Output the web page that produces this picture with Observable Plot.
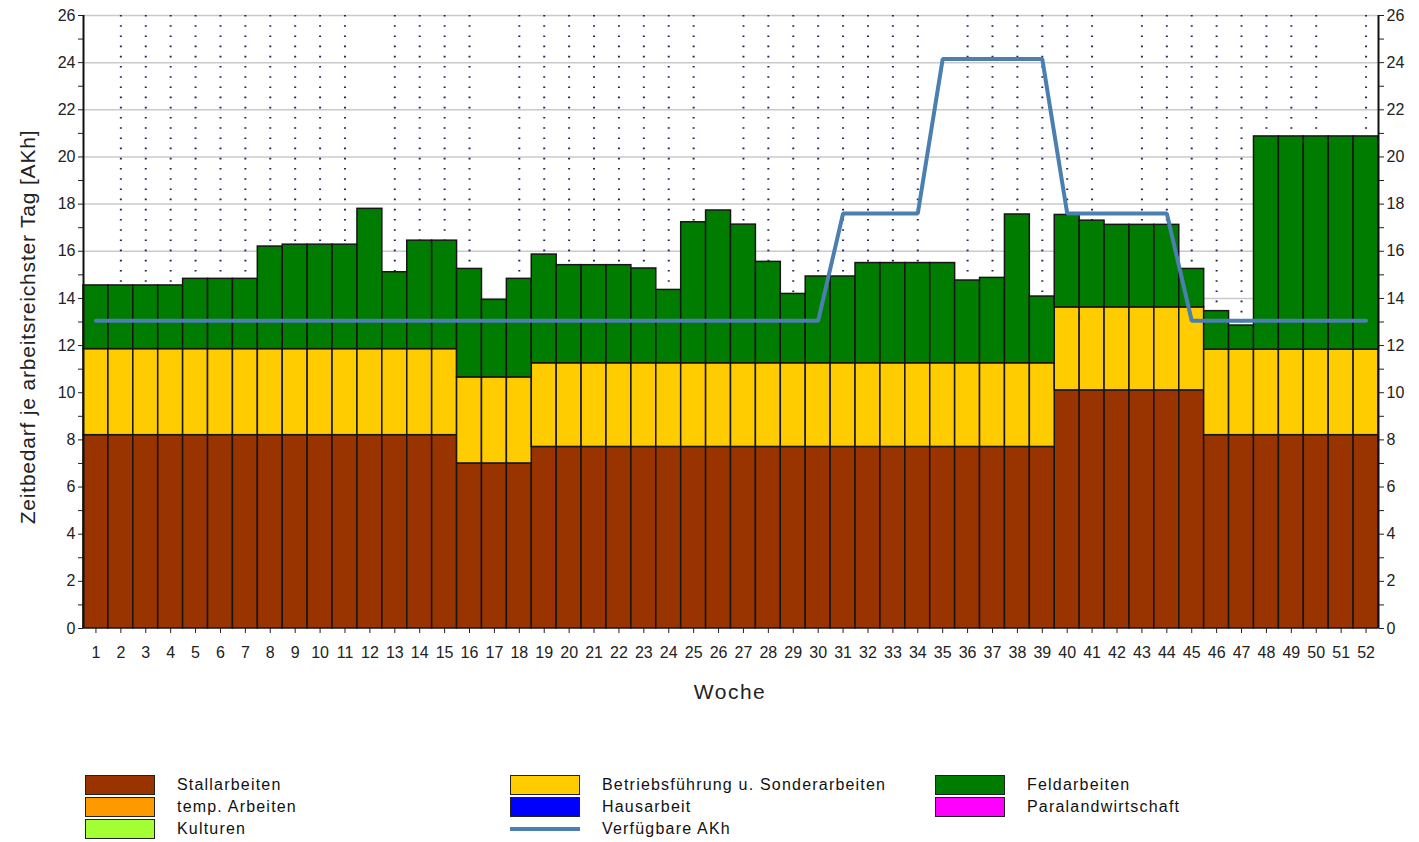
<!DOCTYPE html>
<html>
<head>
<meta charset="utf-8">
<script src="https://cdn.jsdelivr.net/npm/d3@7"></script>
<script src="https://cdn.jsdelivr.net/npm/@observablehq/plot@0.6"></script>
<style>
  html, body { margin: 0; padding: 0; background: #fff; }
  body { font-family: "Liberation Sans", Arial, sans-serif; color: #222; }
  #wrap { position: relative; width: 1419px; height: 842px; overflow: hidden; }
  #chart { position: absolute; left: 0; top: 0; }
  .lbl { position: absolute; white-space: nowrap; color: #222; }
  #ylabel { font-size: 21px; letter-spacing: 0.8px; transform: translate(-50%, -50%) rotate(-90deg); left: 28px; top: 327px; }
  #xlabel { font-size: 21px; letter-spacing: 1.5px; transform: translate(-50%, -50%); left: 730px; top: 692px; }
  .leg-sw { position: absolute; width: 68px; height: 18px; border: 1px solid #222; }
  .leg-line { position: absolute; width: 70px; height: 4px; }
  .leg-tx { position: absolute; font-size: 16px; letter-spacing: 1.2px; transform: translateY(-50%); white-space: nowrap; color: #111; }
</style>
</head>
<body>
<div id="wrap">
  <div id="chart"></div>
  <div id="ylabel" class="lbl">Zeitbedarf je arbeitsreichster Tag [AKh]</div>
  <div id="xlabel" class="lbl">Woche</div>
  <div id="legend"></div>
</div>
<script>
// ---------- data ----------
const weeks = [1,2,3,4,5,6,7,8,9,10,11,12,13,14,15,16,17,18,19,20,21,22,23,24,25,26,
               27,28,29,30,31,32,33,34,35,36,37,38,39,40,41,42,43,44,45,46,47,48,49,50,51,52];

const stallarbeiten = [
  8.2,8.2,8.2,8.2,8.2,8.2,8.2,8.2,8.2,8.2,8.2,8.2,8.2,8.2,8.2,
  7.0,7.0,7.0,
  7.7,7.7,7.7,7.7,7.7,7.7,7.7,7.7,7.7,7.7,7.7,7.7,7.7,7.7,7.7,7.7,7.7,7.7,7.7,7.7,7.7,
  10.1,10.1,10.1,10.1,10.1,10.1,
  8.2,8.2,8.2,8.2,8.2,8.2,8.2
];

const betriebsfuehrung = [
  3.65,3.65,3.65,3.65,3.65,3.65,3.65,3.65,3.65,3.65,3.65,3.65,3.65,3.65,3.65,
  3.65,3.65,3.65,
  3.55,3.55,3.55,3.55,3.55,3.55,3.55,3.55,3.55,3.55,3.55,3.55,3.55,3.55,3.55,3.55,3.55,3.55,3.55,3.55,3.55,
  3.52,3.52,3.52,3.52,3.52,3.52,
  3.63,3.63,3.63,3.63,3.63,3.63,3.63
];

const feldarbeiten = [
  2.70,2.70,2.70,2.70,2.98,2.98,2.98,4.35,4.43,4.43,4.43,5.95,3.26,4.60,4.60,
  4.60,3.29,4.18,
  4.61,4.16,4.16,4.16,4.02,3.11,5.98,6.48,5.88,4.30,2.94,3.68,3.68,4.25,4.25,4.25,4.25,3.51,3.62,6.31,2.83,
  3.92,3.68,3.50,3.50,3.50,1.63,
  1.63,1.02,9.04,9.04,9.04,9.04,9.04
];

const verfuegbareAKh = [
  13.05,13.05,13.05,13.05,13.05,13.05,13.05,13.05,13.05,13.05,13.05,13.05,13.05,13.05,13.05,
  13.05,13.05,13.05,13.05,13.05,13.05,13.05,13.05,13.05,13.05,13.05,13.05,13.05,13.05,13.05,
  17.6,17.6,17.6,17.6,
  24.15,24.15,24.15,24.15,24.15,
  17.6,17.6,17.6,17.6,17.6,
  13.05,13.05,13.05,13.05,13.05,13.05,13.05,13.05
];

const yTicks = [0,1,2,3,4,5,6,7,8,9,10,11,12,13,14,15,16,17,18,19,20,21,22,23,24,25,26];
const yGrid = [2,4,6,8,10,12,14,16,18,20,22,24,26];
const dotlessWeeks = [1,12,17,26,35,42,51];

const barSeries = ["Stallarbeiten", "Betriebsführung u. Sonderarbeiten", "Feldarbeiten"];
const legendCol1 = ["Stallarbeiten", "temp. Arbeiten", "Kulturen"];
const legendCol2 = ["Betriebsführung u. Sonderarbeiten", "Hausarbeit", "Verfügbare AKh"];
const legendCol3 = ["Feldarbeiten", "Paralandwirtschaft"];

// ---------- styles ----------
const colors = {
  "Stallarbeiten": "#993300",
  "temp. Arbeiten": "#ff9900",
  "Kulturen": "#a3ff33",
  "Betriebsführung u. Sonderarbeiten": "#ffcc00",
  "Hausarbeit": "#0000ff",
  "Verfügbare AKh": "#4a7fb0",
  "Feldarbeiten": "#007d00",
  "Paralandwirtschaft": "#ff00ff"
};

// ---------- build table ----------
const seriesValues = [stallarbeiten, betriebsfuehrung, feldarbeiten];
const rows = [];
barSeries.forEach((s, i) => {
  weeks.forEach((w, j) => rows.push({week: w, series: s, value: seriesValues[i][j]}));
});

const W = 1419, H = 720, mL = 83, mR = 41, mT = 15, mB = 92;
const bw = (W - mL - mR) / weeks.length;
const fontStyle = {fontFamily: "'Liberation Sans', Arial, sans-serif", fontSize: "16px", color: "#222", background: "#fff", overflow: "visible"};

const chart = Plot.plot({
  width: W, height: H,
  marginLeft: mL, marginRight: mR, marginTop: mT, marginBottom: mB,
  style: fontStyle,
  x: {type: "band", domain: weeks, padding: 0, label: null},
  y: {domain: [0, 26], label: null},
  color: {domain: barSeries, range: barSeries.map(s => colors[s])},
  marks: [
    Plot.ruleY(yGrid, {stroke: "#cacaca", strokeWidth: 1.5}),
    Plot.ruleX(weeks.filter(w => !dotlessWeeks.includes(w)), {stroke: "#22225e", strokeWidth: 2, strokeDasharray: "1.6,8.6"}),
    Plot.barY(rows, {x: "week", y: "value", fill: "series", stroke: "#161616", strokeWidth: 1.5}),
    Plot.lineY(verfuegbareAKh, {x: weeks, y: d => d, stroke: colors["Verfügbare AKh"], strokeWidth: 4, strokeLinejoin: "miter"}),
    Plot.axisX({tickSize: 5, tickPadding: 13, label: null, stroke: "#222", fill: "#222", letterSpacing: "-0.3px"}),
    Plot.axisY({anchor: "left", ticks: yTicks, tickFormat: d => d % 2 ? "" : d, tickSize: 5, tickPadding: 3, label: null, stroke: "#222", fill: "#222"}),
    Plot.axisY({anchor: "right", ticks: yTicks, tickFormat: d => d % 2 ? "" : d, tickSize: 5, tickPadding: 3, label: null, stroke: "#222", fill: "#222"}),
    Plot.ruleX([weeks[0]], {dx: -bw / 2, stroke: "#111", strokeWidth: 2}),
    Plot.ruleX([weeks[weeks.length - 1]], {dx: bw / 2, stroke: "#111", strokeWidth: 2})
  ]
});
document.getElementById("chart").appendChild(chart);

// ---------- legend ----------
const legend = document.getElementById("legend");
const colX = [85, 510, 935];
const rowY = [775, 797, 819];
[legendCol1, legendCol2, legendCol3].forEach((col, ci) => {
  col.forEach((name, ri) => {
    const y = rowY[ri];
    if (name === "Verfügbare AKh") {
      const ln = document.createElement("div");
      ln.className = "leg-line";
      ln.style.left = colX[ci] + "px";
      ln.style.top = (y + 8) + "px";
      ln.style.background = colors[name];
      legend.appendChild(ln);
    } else {
      const sw = document.createElement("div");
      sw.className = "leg-sw";
      sw.style.left = colX[ci] + "px";
      sw.style.top = y + "px";
      sw.style.background = colors[name];
      legend.appendChild(sw);
    }
    const tx = document.createElement("div");
    tx.className = "leg-tx";
    tx.style.left = (colX[ci] + 92) + "px";
    tx.style.top = (y + 10) + "px";
    tx.textContent = name;
    legend.appendChild(tx);
  });
});
</script>
</body>
</html>
